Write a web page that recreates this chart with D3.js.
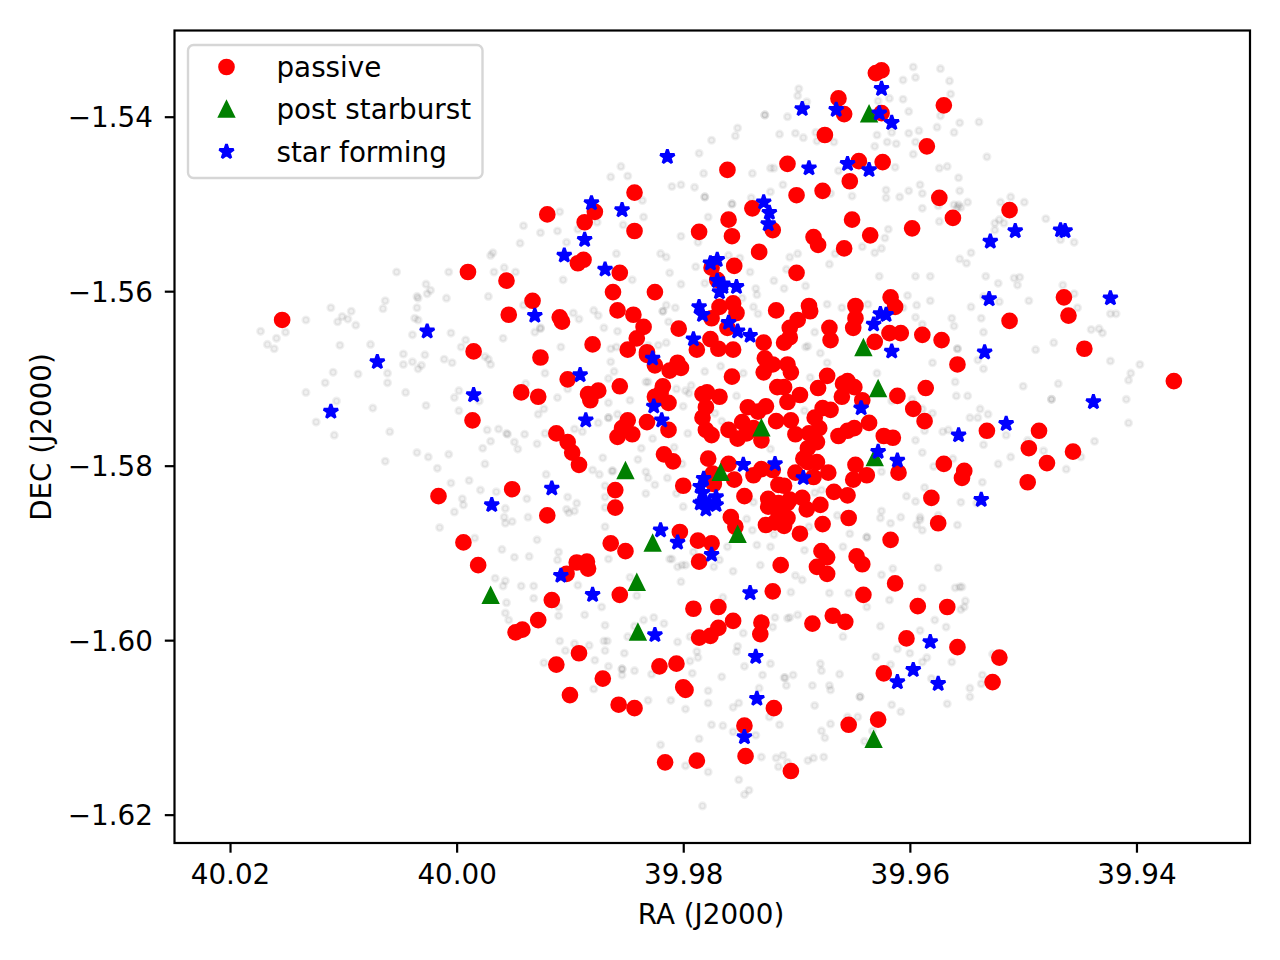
<!DOCTYPE html>
<html>
<head>
<meta charset="utf-8">
<script src="https://cdn.jsdelivr.net/npm/d3@7"></script>
<style>
  body { margin: 0; background: #fff; }
  text { font-family: "DejaVu Sans", sans-serif; fill: #000; }
</style>
</head>
<body>
<svg id="chart" width="1280" height="960"></svg>
<script>
// [RA, DEC]
const passive = [[39.9625,-1.5347],[39.9630,-1.5350],[39.9663,-1.5379],[39.9658,-1.5397],[39.9625,-1.5396],[39.9570,-1.5387],[39.9675,-1.5421],[39.9585,-1.5434],[39.9708,-1.5454],[39.9645,-1.5451],[39.9624,-1.5452],[39.9653,-1.5474],[39.9761,-1.5461],[39.9700,-1.5490],[39.9677,-1.5485],[39.9574,-1.5493],[39.9562,-1.5516],[39.9843,-1.5487],[39.9739,-1.5505],[39.9760,-1.5518],[39.9757,-1.5537],[39.9651,-1.5518],[39.9786,-1.5532],[39.9721,-1.5530],[39.9685,-1.5538],[39.9681,-1.5547],[39.9635,-1.5536],[39.9658,-1.5551],[39.9598,-1.5528],[39.9512,-1.5507],[39.9843,-1.5531],[39.9887,-1.5521],[39.9878,-1.5509],[39.9920,-1.5512],[39.9893,-1.5568],[39.9888,-1.5564],[39.9733,-1.5555],[39.9700,-1.5579],[39.9755,-1.5571],[39.9856,-1.5579],[39.9775,-1.5573],[39.9770,-1.5587],[39.9862,-1.5601],[39.9825,-1.5601],[39.9858,-1.5622],[39.9844,-1.5627],[39.9835,-1.5641],[39.9841,-1.5654],[39.9849,-1.5667],[39.9775,-1.5631],[39.9768,-1.5618],[39.9756,-1.5614],[39.9753,-1.5625],[39.9761,-1.5642],[39.9718,-1.5622],[39.9689,-1.5617],[39.9688,-1.5623],[39.9699,-1.5633],[39.9706,-1.5642],[39.9706,-1.5653],[39.9711,-1.5659],[39.9671,-1.5642],[39.9670,-1.5656],[39.9648,-1.5617],[39.9648,-1.5631],[39.9650,-1.5642],[39.9617,-1.5607],[39.9613,-1.5618],[39.9618,-1.5648],[39.9608,-1.5648],[39.9589,-1.5650],[39.9572,-1.5656],[39.9631,-1.5658],[39.9804,-1.5643],[39.9776,-1.5655],[39.9769,-1.5666],[39.9756,-1.5667],[39.9788,-1.5667],[39.9729,-1.5659],[39.9880,-1.5661],[39.9832,-1.5670],[39.9464,-1.5607],[39.9460,-1.5628],[39.9512,-1.5634],[39.9446,-1.5666],[39.9367,-1.5703],[39.9558,-1.5684],[39.9586,-1.5711],[39.9611,-1.5720],[39.9597,-1.5735],[39.9587,-1.5749],[39.9623,-1.5766],[39.9615,-1.5768],[39.9610,-1.5808],[39.9532,-1.5760],[39.9486,-1.5760],[39.9495,-1.5780],[39.9456,-1.5784],[39.9479,-1.5797],[39.9496,-1.5819],[39.9570,-1.5798],[39.9552,-1.5806],[39.9554,-1.5814],[39.9581,-1.5837],[39.9575,-1.5866],[39.9617,-1.5885],[39.9613,-1.5935],[39.9593,-1.5961],[39.9567,-1.5962],[39.9678,-1.5898],[39.9673,-1.5905],[39.9682,-1.5916],[39.9673,-1.5924],[39.9647,-1.5904],[39.9642,-1.5913],[39.9714,-1.5914],[39.9641,-1.5948],[39.9686,-1.5981],[39.9668,-1.5972],[39.9657,-1.5979],[39.9603,-1.5998],[39.9558,-1.6008],[39.9521,-1.6020],[39.9527,-1.6048],[39.9623,-1.6038],[39.9654,-1.6097],[39.9628,-1.6091],[39.9994,-1.5888],[39.9981,-1.5914],[39.9864,-1.5889],[39.9851,-1.5898],[39.9903,-1.5924],[39.9894,-1.5911],[39.9885,-1.5910],[39.9884,-1.5918],[39.9916,-1.5954],[39.9928,-1.5977],[39.9942,-1.5988],[39.9948,-1.5991],[39.9856,-1.5948],[39.9786,-1.5910],[39.9721,-1.5944],[39.9791,-1.5964],[39.9769,-1.5962],[39.9756,-1.5978],[39.9769,-1.5986],[39.9776,-1.5995],[39.9786,-1.5997],[39.9731,-1.5980],[39.9732,-1.5993],[39.9892,-1.6015],[39.9912,-1.6028],[39.9871,-1.6044],[39.9900,-1.6063],[39.9857,-1.6074],[39.9843,-1.6078],[39.9821,-1.6030],[39.9806,-1.6027],[39.9800,-1.6054],[39.9798,-1.6057],[39.9720,-1.6078],[39.9746,-1.6098],[39.9745,-1.6133],[39.9816,-1.6140],[39.9788,-1.6138],[39.9705,-1.6150],[39.9787,-1.5886],[39.9775,-1.5889],[40.0154,-1.5633],[39.9954,-1.5627],[39.9933,-1.5611],[39.9909,-1.5630],[39.9907,-1.5635],[39.9985,-1.5669],[39.9926,-1.5676],[39.9902,-1.5701],[39.9856,-1.5709],[39.9943,-1.5716],[39.9928,-1.5721],[39.9884,-1.5718],[39.9875,-1.5714],[39.9882,-1.5725],[39.9986,-1.5748],[39.9849,-1.5748],[39.9832,-1.5750],[39.9854,-1.5757],[39.9845,-1.5764],[39.9858,-1.5767],[39.9912,-1.5763],[39.9902,-1.5773],[39.9898,-1.5785],[39.9892,-1.5799],[39.9951,-1.5827],[40.0016,-1.5835],[39.9860,-1.5828],[39.9860,-1.5848],[39.9920,-1.5857],[39.9990,-1.5578],[39.9956,-1.5588],[39.9832,-1.5673],[39.9825,-1.5685],[39.9812,-1.5691],[39.9805,-1.5682],[39.9802,-1.5688],[39.9728,-1.5677],[39.9721,-1.5684],[39.9729,-1.5693],[39.9708,-1.5684],[39.9705,-1.5693],[39.9757,-1.5698],[39.9673,-1.5697],[39.9681,-1.5711],[39.9659,-1.5706],[39.9655,-1.5703],[39.9649,-1.5710],[39.9660,-1.5721],[39.9642,-1.5725],[39.9818,-1.5709],[39.9820,-1.5717],[39.9825,-1.5721],[39.9813,-1.5728],[39.9813,-1.5759],[39.9779,-1.5716],[39.9783,-1.5718],[39.9768,-1.5721],[39.9780,-1.5733],[39.9783,-1.5745],[39.9780,-1.5759],[39.9775,-1.5765],[39.9743,-1.5733],[39.9734,-1.5738],[39.9727,-1.5732],[39.9748,-1.5750],[39.9760,-1.5759],[39.9752,-1.5769],[39.9744,-1.5763],[39.9731,-1.5771],[39.9738,-1.5757],[39.9718,-1.5749],[39.9705,-1.5748],[39.9708,-1.5727],[39.9697,-1.5719],[39.9717,-1.5710],[39.9711,-1.5710],[39.9677,-1.5734],[39.9670,-1.5736],[39.9684,-1.5745],[39.9680,-1.5757],[39.9701,-1.5764],[39.9689,-1.5763],[39.9682,-1.5773],[39.9690,-1.5780],[39.9694,-1.5792],[39.9690,-1.5796],[39.9682,-1.5796],[39.9701,-1.5808],[39.9685,-1.5813],[39.9672,-1.5808],[39.9663,-1.5766],[39.9655,-1.5760],[39.9649,-1.5757],[39.9636,-1.5751],[39.9817,-1.5787],[39.9809,-1.5795],[39.9778,-1.5792],[39.9760,-1.5798],[39.9774,-1.5809],[39.9773,-1.5821],[39.9755,-1.5816],[39.9738,-1.5811],[39.9731,-1.5804],[39.9721,-1.5805],[39.9800,-1.5823],[39.9746,-1.5835],[39.9716,-1.5822],[39.9711,-1.5823],[39.9725,-1.5838],[39.9725,-1.5847],[39.9716,-1.5843],[39.9706,-1.5839],[39.9695,-1.5837],[39.9691,-1.5850],[39.9679,-1.5845],[39.9667,-1.5830],[39.9655,-1.5834],[39.9650,-1.5816],[39.9638,-1.5811],[39.9648,-1.5799],[39.9708,-1.5843],[39.9716,-1.5854],[39.9708,-1.5860],[39.9727,-1.5868],[39.9711,-1.5869],[39.9719,-1.5865],[39.9697,-1.5878],[39.9677,-1.5867],[39.9654,-1.5860],[39.9758,-1.5859],[39.9754,-1.5870],[39.9803,-1.5876]];

const postStarburst = [[39.9636,-1.5397],[39.9641,-1.5665],[39.9628,-1.5712],[39.9731,-1.5757],[39.9767,-1.5808],[39.9631,-1.5791],[39.9752,-1.5879],[39.9827,-1.5889],[39.9851,-1.5806],[39.9841,-1.5934],[39.9970,-1.5949],[39.9840,-1.5991],[39.9632,-1.6114]];

const starForming = [[39.9695,-1.5391],[39.9665,-1.5392],[39.9625,-1.5368],[39.9627,-1.5396],[39.9616,-1.5407],[39.9689,-1.5459],[39.9655,-1.5454],[39.9636,-1.5461],[39.9814,-1.5446],[39.9729,-1.5498],[39.9724,-1.5510],[39.9725,-1.5523],[39.9881,-1.5499],[39.9854,-1.5507],[39.9887,-1.5541],[39.9905,-1.5559],[39.9869,-1.5575],[39.9776,-1.5568],[39.9770,-1.5564],[39.9770,-1.5588],[39.9765,-1.5592],[39.9753,-1.5595],[39.9768,-1.5601],[39.9765,-1.5595],[39.9786,-1.5618],[39.9783,-1.5627],[39.9760,-1.5636],[39.9752,-1.5646],[39.9741,-1.5651],[39.9791,-1.5655],[39.9626,-1.5626],[39.9621,-1.5627],[39.9632,-1.5638],[39.9616,-1.5669],[39.9530,-1.5609],[39.9423,-1.5608],[39.9507,-1.5531],[39.9529,-1.5543],[39.9467,-1.5530],[39.9463,-1.5531],[39.9931,-1.5628],[40.0026,-1.5646],[40.0070,-1.5681],[40.0111,-1.5738],[39.9985,-1.5719],[39.9891,-1.5696],[39.9886,-1.5748],[39.9916,-1.5826],[39.9969,-1.5845],[39.9908,-1.5926],[39.9880,-1.5948],[39.9827,-1.5677],[39.9826,-1.5732],[39.9819,-1.5748],[39.9643,-1.5734],[39.9628,-1.5784],[39.9611,-1.5794],[39.9747,-1.5799],[39.9719,-1.5798],[39.9694,-1.5814],[39.9782,-1.5815],[39.9785,-1.5824],[39.9783,-1.5831],[39.9783,-1.5842],[39.9771,-1.5836],[39.9771,-1.5845],[39.9780,-1.5850],[39.9785,-1.5843],[39.9777,-1.5843],[39.9820,-1.5874],[39.9805,-1.5888],[39.9775,-1.5902],[39.9534,-1.5670],[39.9515,-1.5752],[39.9557,-1.5765],[39.9438,-1.5727],[39.9537,-1.5839],[39.9825,-1.5994],[39.9741,-1.5946],[39.9736,-1.6019],[39.9735,-1.6067],[39.9746,-1.6111],[39.9582,-1.6002],[39.9597,-1.6034],[39.9611,-1.6048],[39.9575,-1.6050]];

const allGalaxies = [[39.9909,-1.5509],[39.9941,-1.5525],[39.9926,-1.5533],[39.9911,-1.5531],[39.9903,-1.5544],[39.9944,-1.5545],[39.9970,-1.5559],[39.9968,-1.5556],[40.0053,-1.5578],[40.0007,-1.5578],[39.9967,-1.5578],[39.9958,-1.5573],[39.9948,-1.5578],[39.9906,-1.5587],[40.0027,-1.5592],[40.0023,-1.5599],[40.0026,-1.5603],[40.0035,-1.5606],[40.0034,-1.5608],[40.0009,-1.5608],[39.9972,-1.5606],[40.0063,-1.5611],[40.0065,-1.5620],[40.0035,-1.5619],[40.0111,-1.5619],[40.0093,-1.5623],[40.0101,-1.5629],[40.0096,-1.5632],[40.0105,-1.5635],[40.0089,-1.5639],[40.0133,-1.5633],[40.0037,-1.5631],[40.0034,-1.5633],[39.9941,-1.5616],[39.9926,-1.5642],[40.0173,-1.5646],[40.0159,-1.5654],[40.0151,-1.5647],[40.0167,-1.5661],[40.0161,-1.5666],[40.0103,-1.5662],[40.0076,-1.5661],[40.0039,-1.5650],[40.0005,-1.5648],[40.0028,-1.5673],[40.0047,-1.5672],[40.0047,-1.5684],[40.0039,-1.5681],[40.0031,-1.5685],[40.0034,-1.5689],[40.0011,-1.5678],[40.0004,-1.5682],[39.9996,-1.5664],[39.9992,-1.5656],[39.9975,-1.5675],[39.9972,-1.5678],[39.9970,-1.5684],[39.9959,-1.5654],[39.9931,-1.5647],[39.9926,-1.5643],[39.9908,-1.5664],[39.9870,-1.5642],[39.9858,-1.5646],[39.9897,-1.5625],[39.9892,-1.5632],[39.9879,-1.5622],[39.9875,-1.5628],[39.9864,-1.5666],[39.9859,-1.5664],[40.0087,-1.5695],[40.0061,-1.5694],[40.0061,-1.5705],[40.0109,-1.5693],[40.0116,-1.5705],[40.0133,-1.5716],[40.0106,-1.5726],[40.0124,-1.5750],[40.0108,-1.5765],[40.0074,-1.5734],[40.0059,-1.5761],[40.0045,-1.5716],[40.0027,-1.5731],[40.0002,-1.5722],[39.9998,-1.5714],[39.9998,-1.5737],[39.9980,-1.5726],[39.9922,-1.5694],[39.9939,-1.5706],[39.9902,-1.5712],[39.9911,-1.5722],[39.9923,-1.5735],[39.9928,-1.5741],[39.9864,-1.5681],[39.9861,-1.5692],[39.9866,-1.5700],[39.9833,-1.5704],[39.9847,-1.5725],[39.9866,-1.5728],[39.9866,-1.5745],[39.9866,-1.5745],[39.9858,-1.5741],[39.9875,-1.5751],[39.9896,-1.5758],[39.9889,-1.5761],[39.9922,-1.5763],[39.9940,-1.5764],[39.9956,-1.5763],[39.9963,-1.5758],[39.9973,-1.5759],[39.9955,-1.5764],[39.9949,-1.5773],[39.9946,-1.5781],[39.9970,-1.5772],[39.9977,-1.5780],[39.9929,-1.5775],[39.9975,-1.5798],[40.0035,-1.5785],[40.0025,-1.5790],[40.0007,-1.5787],[40.0017,-1.5803],[40.0063,-1.5795],[39.9837,-1.5780],[39.9840,-1.5793],[39.9871,-1.5791],[39.9880,-1.5805],[39.9874,-1.5810],[39.9863,-1.5806],[39.9862,-1.5806],[39.9833,-1.5807],[39.9921,-1.5810],[40.0005,-1.5820],[39.9989,-1.5817],[39.9979,-1.5828],[39.9965,-1.5830],[39.9995,-1.5838],[39.9994,-1.5845],[40.0002,-1.5853],[39.9938,-1.5838],[39.9902,-1.5836],[39.9894,-1.5843],[39.9903,-1.5850],[39.9896,-1.5852],[39.9901,-1.5854],[39.9957,-1.5849],[39.9958,-1.5859],[39.9951,-1.5864],[39.9957,-1.5866],[39.9937,-1.5859],[40.0015,-1.5871],[39.9984,-1.5883],[39.9929,-1.5885],[39.9869,-1.5823],[39.9869,-1.5836],[39.9869,-1.5848],[39.9833,-1.5832],[39.9869,-1.5870],[39.9960,-1.5896],[39.9910,-1.5899],[39.9949,-1.5905],[39.9936,-1.5904],[39.9911,-1.5908],[39.9866,-1.5907],[39.9847,-1.5928],[39.9966,-1.5929],[39.9957,-1.5932],[39.9959,-1.5938],[39.9943,-1.5938],[39.9932,-1.5938],[39.9893,-1.5937],[39.9932,-1.5952],[39.9841,-1.5949],
[39.9956,-1.5957],[39.9957,-1.5969],[39.9954,-1.5977],[39.9910,-1.5962],[39.9910,-1.5972],[39.9872,-1.5962],[39.9887,-1.5971],[39.9869,-1.5983],[39.9843,-1.5984],[39.9835,-1.5977],[39.9826,-1.5974],[39.9817,-1.5981],[39.9849,-1.5996],[39.9909,-1.6001],[39.9896,-1.6004],[39.9883,-1.6006],[39.9904,-1.6012],[39.9870,-1.6001],[39.9867,-1.6001],[39.9869,-1.6012],[39.9852,-1.6015],[39.9878,-1.6023],[39.9923,-1.6026],[39.9866,-1.6030],[39.9854,-1.6033],[39.9854,-1.6033],[39.9843,-1.6035],[39.9854,-1.6040],[39.9828,-1.6039],[39.9879,-1.6056],[39.9831,-1.6069],[39.9811,-1.6069],[39.9798,-1.6079],[39.9792,-1.6038],[39.9794,-1.6024],[39.9787,-1.6020],[39.9788,-1.6013],[39.9805,-1.6002],[39.9794,-1.5996],[39.9766,-1.6042],[39.9746,-1.6030],[39.9730,-1.6040],[39.9723,-1.6027],[39.9752,-1.6007],[39.9753,-1.6013],[39.9747,-1.5992],[39.9721,-1.5985],[39.9719,-1.5974],[39.9708,-1.5975],[39.9706,-1.5974],[39.9699,-1.5971],[39.9705,-1.5945],[39.9671,-1.5946],[39.9695,-1.5931],[39.9701,-1.5926],[39.9732,-1.5914],[39.9756,-1.5921],[39.9802,-1.5933],[39.9765,-1.5951],[39.9805,-1.5916],[39.9812,-1.5907],[39.9810,-1.5907],[39.9798,-1.5914],[39.9801,-1.5914],[39.9773,-1.5916],[39.9768,-1.5908],[39.9791,-1.5899],[39.9735,-1.5891],[39.9723,-1.5893],[39.9761,-1.5893],[39.9693,-1.5897],[39.9778,-1.6058],[39.9778,-1.6072],[39.9756,-1.6077],[39.9751,-1.6072],[39.9733,-1.6055],[39.9711,-1.6043],[39.9710,-1.6043],[39.9709,-1.6052],[39.9703,-1.6040],[39.9686,-1.6052],[39.9679,-1.6027],[39.9678,-1.6035],[39.9671,-1.6052],[39.9670,-1.6057],[39.9662,-1.6039],[39.9684,-1.6075],[39.9715,-1.6097],[39.9724,-1.6088],[39.9775,-1.6097],[39.9765,-1.6098],[39.9756,-1.6105],[39.9736,-1.6109],[39.9786,-1.6113],[39.9820,-1.6120],[39.9798,-1.6144],[39.9778,-1.6151],[39.9751,-1.6160],[39.9742,-1.6172],[39.9746,-1.6177],[39.9783,-1.6190],[39.9731,-1.6134],[39.9718,-1.6135],[39.9712,-1.6132],[39.9716,-1.6145],[39.9685,-1.6135],[39.9690,-1.6138],[39.9676,-1.6134],[39.9678,-1.6104],[39.9675,-1.6112],[39.9670,-1.6096],[39.9708,-1.6140],[39.9659,-1.5893],[39.9615,-1.5918],[39.9625,-1.5925],[39.9575,-1.5917],[39.9654,-1.5946],[39.9589,-1.5940],[39.9618,-1.5954],[39.9638,-1.5962],[39.9560,-1.5940],[39.9556,-1.5939],[39.9554,-1.5939],[39.9551,-1.5955],[39.9552,-1.5962],[39.9555,-1.5965],[39.9578,-1.5977],[39.9568,-1.5985],[39.9591,-1.5989],[39.9626,-1.5984],[39.9659,-1.5996],[39.9611,-1.6010],[39.9600,-1.6015],[39.9585,-1.6020],[39.9589,-1.6025],[39.9630,-1.6019],[39.9617,-1.6028],[39.9563,-1.6025],[39.9527,-1.6016],[39.9581,-1.6044],[39.9536,-1.6040],[39.9537,-1.6050],[39.9547,-1.6055],[39.9547,-1.6065],[39.9567,-1.6073],[39.9644,-1.6065],[39.9644,-1.6065],[39.9616,-1.6074],[39.9608,-1.6082],[39.9655,-1.6088],[39.9646,-1.6088],[39.9633,-1.6104],[39.9640,-1.6116],
[39.9535,-1.5647],[39.9473,-1.5659],[39.9489,-1.5667],[39.9423,-1.5680],[39.9397,-1.5684],[39.9405,-1.5694],[39.9407,-1.5702],[39.9500,-1.5709],[39.9469,-1.5706],[39.9475,-1.5724],[39.9475,-1.5724],[39.9409,-1.5724],[39.9407,-1.5751],[39.9437,-1.5772],[39.9558,-1.5666],[39.9558,-1.5666],[39.9540,-1.5679],[39.9535,-1.5689],[39.9580,-1.5682],[39.9560,-1.5704],[39.9559,-1.5720],[39.9549,-1.5720],[39.9538,-1.5735],[39.9531,-1.5741],[39.9540,-1.5745],[39.9547,-1.5745],[39.9580,-1.5740],[39.9589,-1.5735],[39.9598,-1.5724],[39.9616,-1.5726],[39.9587,-1.5760],[39.9571,-1.5761],[39.9566,-1.5759],[39.9515,-1.5765],[39.9535,-1.5776],[39.9595,-1.5771],[39.9589,-1.5785],[39.9562,-1.5792],[39.9579,-1.5801],[39.9522,-1.5798],[39.9511,-1.5790],[39.9496,-1.5771],[39.9482,-1.5783],[39.9449,-1.5790],[39.9462,-1.5804],[39.9536,-1.5819],[39.9587,-1.5825],[39.9603,-1.5835],[39.9595,-1.5841],[39.9555,-1.5842],[39.9541,-1.5843],[39.9608,-1.5859],[39.9617,-1.5866],[39.9591,-1.5859],[39.9591,-1.5862],[39.9594,-1.5868],[39.9589,-1.5874],[39.9575,-1.5857],[39.9558,-1.5868],[39.9625,-1.5852],[39.9626,-1.5860],
[39.9597,-1.5343],[39.9573,-1.5345],[39.9595,-1.5355],[39.9606,-1.5358],[39.9565,-1.5359],[39.9564,-1.5374],[39.9618,-1.5379],[39.9606,-1.5380],[39.9628,-1.5382],[39.9601,-1.5394],[39.9573,-1.5399],[39.9556,-1.5407],[39.9539,-1.5406],[39.9576,-1.5412],[39.9561,-1.5418],[39.9592,-1.5416],[39.9601,-1.5419],[39.9616,-1.5418],[39.9629,-1.5421],[39.9620,-1.5429],[39.9612,-1.5431],[39.9631,-1.5434],[39.9595,-1.5429],[39.9597,-1.5443],[39.9532,-1.5446],[39.9613,-1.5458],[39.9574,-1.5459],[39.9567,-1.5457],[39.9557,-1.5470],[39.9591,-1.5478],[39.9601,-1.5485],[39.9589,-1.5488],[39.9621,-1.5484],[39.9621,-1.5493],[39.9609,-1.5492],[39.9651,-1.5491],[39.9556,-1.5485],[39.9589,-1.5505],[39.9575,-1.5502],[39.9561,-1.5501],[39.9557,-1.5501],[39.9555,-1.5504],[39.9558,-1.5504],[39.9549,-1.5498],[39.9520,-1.5498],[39.9511,-1.5492],[39.9499,-1.5498],[39.9574,-1.5520],[39.9525,-1.5522],[39.9521,-1.5518],[39.9517,-1.5522],[39.9525,-1.5530],[39.9480,-1.5517],[39.9619,-1.5529],[39.9622,-1.5539],[39.9642,-1.5549],[39.9625,-1.5551],[39.9631,-1.5556],[39.9467,-1.5541],[39.9455,-1.5544],[39.9556,-1.5563],[39.9546,-1.5556],[39.9550,-1.5568],[39.9627,-1.5583],[39.9595,-1.5583],[39.9582,-1.5583],[39.9533,-1.5583],[39.9522,-1.5591],[39.9508,-1.5585],[39.9503,-1.5584],[39.9505,-1.5593],[39.9465,-1.5593],[39.9455,-1.5603],[39.9535,-1.5606],[39.9521,-1.5612],[39.9495,-1.5611],[39.9452,-1.5619],[39.9423,-1.5626],[39.9418,-1.5626],[39.9602,-1.5605],[39.9594,-1.5616],[39.9582,-1.5611],[39.9637,-1.5615],[39.9606,-1.5619],[39.9595,-1.5630],[39.9589,-1.5638],[39.9546,-1.5618],[39.9537,-1.5631],[39.9563,-1.5631],[39.9561,-1.5640],[39.9440,-1.5644],[39.9433,-1.5643],[39.9430,-1.5648],
[39.9698,-1.5368],[39.9699,-1.5376],[39.9691,-1.5383],[39.9728,-1.5398],[39.9728,-1.5398],[39.9708,-1.5400],[39.9752,-1.5413],[39.9754,-1.5422],[39.9775,-1.5427],[39.9715,-1.5420],[39.9701,-1.5419],[39.9694,-1.5424],[39.9683,-1.5418],[39.9682,-1.5428],[39.9667,-1.5429],[39.9786,-1.5442],[39.9782,-1.5465],[39.9739,-1.5465],[39.9723,-1.5459],[39.9720,-1.5459],[39.9663,-1.5462],[39.9855,-1.5457],[39.9864,-1.5469],[39.9849,-1.5468],[39.9810,-1.5480],[39.9802,-1.5478],[39.9790,-1.5481],[39.9781,-1.5492],[39.9781,-1.5492],[39.9712,-1.5478],[39.9723,-1.5486],[39.9740,-1.5493],[39.9757,-1.5500],[39.9757,-1.5500],[39.9778,-1.5515],[39.9835,-1.5515],[39.9853,-1.5524],[39.9876,-1.5521],[39.9893,-1.5529],[39.9836,-1.5496],[39.9670,-1.5488],[39.9699,-1.5557],[39.9706,-1.5561],[39.9666,-1.5557],[39.9671,-1.5569],[39.9709,-1.5575],[39.9741,-1.5578],[39.9750,-1.5562],[39.9760,-1.5559],[39.9787,-1.5544],[39.9802,-1.5537],[39.9789,-1.5572],[39.9812,-1.5579],[39.9820,-1.5557],[39.9815,-1.5561],[39.9859,-1.5557],[39.9845,-1.5587],[39.9802,-1.5592],[39.9781,-1.5591],[39.9720,-1.5588],[39.9711,-1.5597],[39.9692,-1.5594],[39.9736,-1.5597],[39.9735,-1.5604],[39.9748,-1.5608],[39.9738,-1.5618],[39.9734,-1.5626],[39.9673,-1.5615],[39.9660,-1.5619],[39.9815,-1.5616],[39.9807,-1.5619],[39.9818,-1.5623],[39.9818,-1.5623],[39.9813,-1.5635],[39.9684,-1.5647],[39.9822,-1.5662],[39.9815,-1.5659],[39.9690,-1.5663],[39.9692,-1.5664],
[39.9831,-1.5662],[39.9679,-1.5671],[39.9673,-1.5682],[39.9747,-1.5694],[39.9767,-1.5686],[39.9781,-1.5692],[39.9688,-1.5699],[39.9629,-1.5694],[39.9831,-1.5704],[39.9806,-1.5712],[39.9798,-1.5714],[39.9793,-1.5708],[39.9795,-1.5717],[39.9800,-1.5732],[39.9753,-1.5720],[39.9772,-1.5740],[39.9766,-1.5749],[39.9693,-1.5737],[39.9827,-1.5769],[39.9796,-1.5763],[39.9808,-1.5779],[39.9723,-1.5781],[39.9831,-1.5814],[39.9825,-1.5822],[39.9814,-1.5814],[39.9806,-1.5832],[39.9801,-1.5798],[39.9800,-1.5847],[39.9738,-1.5842],[39.9684,-1.5831],[39.9678,-1.5828],[39.9625,-1.5807],[39.9744,-1.5861],[39.9739,-1.5874],[39.9720,-1.5879],[39.9689,-1.5870],[39.9664,-1.5857],[39.9653,-1.5878],[39.9638,-1.5882],[39.9638,-1.5882]];

const raTicks = [40.02, 40.00, 39.98, 39.96, 39.94];
const decTicks = [-1.54, -1.56, -1.58, -1.60, -1.62];
const legendLabels = ["passive", "post starburst", "star forming"];

var margin = { top: 30.5, right: 30, bottom: 117, left: 174.5 };
var width = 1280 - margin.left - margin.right;
var height = 960 - margin.top - margin.bottom;

const svg = d3.select("#chart");
const g = svg.append("g").attr("transform", `translate(${margin.left}, ${margin.top})`);

var xScale = d3.scaleLinear().domain([40.0249, 39.92998]).range([0, width]);
var yScale = d3.scaleLinear().domain([-1.62325, -1.53012]).range([height, 0]);

// matplotlib's '^' is not equilateral, so it gets its own symbol type
const mplTriangle = {
  draw(ctx, size) {
    var r = Math.sqrt(size) / 2;
    ctx.moveTo(0, -r);
    ctx.lineTo(r, r);
    ctx.lineTo(-r, r);
    ctx.closePath();
  }
};

const ms = 13.9; // marker size in px
const starMs = 15;
const edge = 2.78;
const circle = d3.symbol().type(d3.symbolCircle).size(Math.PI * ms * ms / 4)();
const triangle = d3.symbol().type(mplTriangle).size(ms * ms)();
const star = d3.symbol().type(d3.symbolStar).size((starMs * starMs / 4) / 0.8908130915292852)();

const pt = d => `translate(${xScale(d[0])}, ${yScale(d[1])})`;

g.selectAll(".all")
  .data(allGalaxies)
  .enter()
  .append("circle")
  .attr("class", "all")
  .attr("cx", d => xScale(d[0]))
  .attr("cy", d => yScale(d[1]))
  .attr("r", 3.2)
  .attr("fill", "#000")
  .attr("fill-opacity", 0.06)
  .attr("stroke", "#000")
  .attr("stroke-opacity", 0.06)
  .attr("stroke-width", edge);

function drawMarkers(sel, data, path, color, join) {
  sel.selectAll("path")
    .data(data)
    .enter()
    .append("path")
    .attr("d", path)
    .attr("transform", pt)
    .attr("fill", color)
    .attr("stroke", color)
    .attr("stroke-width", edge)
    .attr("stroke-linejoin", join)
    .attr("stroke-miterlimit", 10);
}

drawMarkers(g.append("g"), passive, circle, "#ff0000", "round");
drawMarkers(g.append("g"), postStarburst, triangle, "#008000", "miter");
drawMarkers(g.append("g"), starForming, star, "#0000ff", "bevel");

// axes
const xAxis = g.append("g")
  .attr("transform", `translate(0, ${height})`)
  .call(d3.axisBottom(xScale).tickValues(raTicks).tickFormat(d3.format(".2f")).tickSize(9.7).tickPadding(11.5));
const yAxis = g.append("g")
  .call(d3.axisLeft(yScale).tickValues(decTicks).tickFormat(d => "\u2212" + d3.format(".2f")(Math.abs(d))).tickSize(9.7).tickPadding(12));

[xAxis, yAxis].forEach(a => {
  a.attr("font-family", "DejaVu Sans").attr("font-size", 27.78);
  a.selectAll("line").attr("stroke", "#000").attr("stroke-width", 2.2);
  a.select(".domain").remove();
});
yAxis.selectAll("text").attr("dy", "0.36em");

g.append("rect")
  .attr("width", width)
  .attr("height", height)
  .attr("fill", "none")
  .attr("stroke", "#000")
  .attr("stroke-width", 2.2);

svg.append("text")
  .attr("x", 711)
  .attr("y", 924)
  .attr("text-anchor", "middle")
  .attr("font-size", 27.78)
  .text("RA (J2000)");

svg.append("text")
  .attr("transform", "translate(51, 437) rotate(-90)")
  .attr("text-anchor", "middle")
  .attr("font-size", 27.78)
  .text("DEC (J2000)");

// legend
const legend = svg.append("g");
legend.append("rect")
  .attr("x", 188)
  .attr("y", 45)
  .attr("width", 294.5)
  .attr("height", 133)
  .attr("rx", 5.5)
  .attr("fill", "#fff")
  .attr("fill-opacity", 0.8)
  .attr("stroke", "#d6d6d6")
  .attr("stroke-width", 2.4);

const legendRows = [
  { path: circle, color: "#ff0000", join: "round" },
  { path: triangle, color: "#008000", join: "miter" },
  { path: star, color: "#0000ff", join: "bevel" }
];
legendRows.forEach((row, i) => {
  var y = 67 + i * 42.4;
  legend.append("path")
    .attr("d", row.path)
    .attr("transform", `translate(226.5, ${y})`)
    .attr("fill", row.color)
    .attr("stroke", row.color)
    .attr("stroke-width", edge)
    .attr("stroke-linejoin", row.join);
  legend.append("text")
    .attr("x", 276.5)
    .attr("y", y + 9.7)
    .attr("font-size", 27.78)
    .text(legendLabels[i]);
});
</script>
</body>
</html>
